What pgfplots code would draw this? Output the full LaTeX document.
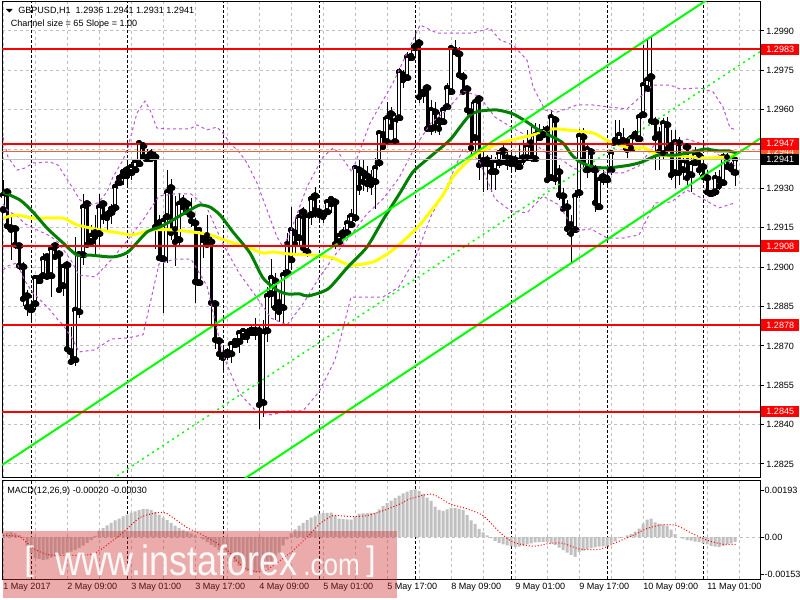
\documentclass[border=0pt]{standalone}
\usepackage{pgfplots}
\pgfplotsset{compat=1.18}
\usepackage{pgfplotstable}
\usepackage{fontspec}
\setmainfont{Liberation Sans}

\definecolor{mtgrid}{RGB}{192,192,192}
\definecolor{mtgreen}{RGB}{0,128,0}
\definecolor{mtlime}{RGB}{0,255,0}
\definecolor{mtyellow}{RGB}{255,255,0}
\definecolor{mtorchid}{RGB}{186,85,211}
\definecolor{mtorange}{RGB}{255,90,40}
\definecolor{mtpink}{RGB}{205,45,45}
\newcommand\lbl{\fontsize{6.8}{8.2}\selectfont}

% hourly candles, i = bar index (0 = 1 May 17:00)
\pgfplotstableread{
i o h l c
0 1.29218 1.29332 1.29210 1.29275
1 1.29286 1.29294 1.29142 1.29157
2 1.29149 1.29199 1.29027 1.29142
3 1.29146 1.29153 1.29069 1.29085
4 1.29081 1.29088 1.28989 1.29005
5 1.29001 1.29020 1.28852 1.28879
6 1.28890 1.28913 1.28814 1.28848
7 1.28837 1.28856 1.28787 1.28848
8 1.28860 1.28970 1.28837 1.28959
9 1.28947 1.28970 1.28940 1.28959
10 1.28966 1.29054 1.28959 1.29031
11 1.29039 1.29043 1.28955 1.28963
12 1.28966 1.29077 1.28886 1.29069
13 1.29081 1.29085 1.29031 1.29039
14 1.29050 1.29054 1.28906 1.28913
15 1.28928 1.29008 1.28890 1.29001
16 1.29008 1.29016 1.28685 1.28688
17 1.28677 1.28772 1.28635 1.28639
18 1.28646 1.29115 1.28624 1.28837
19 1.28829 1.29054 1.28806 1.29050
20 1.29046 1.29279 1.29008 1.29229
21 1.29241 1.29245 1.29077 1.29085
22 1.29096 1.29161 1.29085 1.29119
23 1.29130 1.29199 1.29046 1.29115
24 1.29127 1.29279 1.29085 1.29229
25 1.29241 1.29252 1.29165 1.29191
26 1.29199 1.29218 1.29142 1.29187
27 1.29207 1.29241 1.29165 1.29222
28 1.29226 1.29313 1.29210 1.29306
29 1.29321 1.29347 1.29313 1.29340
30 1.29347 1.29378 1.29313 1.29363
31 1.29370 1.29401 1.29313 1.29347
32 1.29359 1.29401 1.29332 1.29382
33 1.29370 1.29408 1.29363 1.29401
34 1.29393 1.29477 1.29389 1.29473
35 1.29462 1.29477 1.29416 1.29420
36 1.29412 1.29450 1.29408 1.29420
37 1.29431 1.29450 1.29408 1.29412
38 1.29420 1.29443 1.29069 1.29153
39 1.29168 1.29199 1.29027 1.29035
40 1.29031 1.29187 1.28826 1.29176
41 1.29191 1.29370 1.29016 1.29286
42 1.29302 1.29336 1.29104 1.29130
43 1.29142 1.29271 1.29005 1.29096
44 1.29104 1.29283 1.29077 1.29241
45 1.29252 1.29275 1.29210 1.29229
46 1.29241 1.29256 1.29199 1.29210
47 1.29199 1.29264 1.29153 1.29176
48 1.29168 1.29187 1.28864 1.28944
49 1.28940 1.29149 1.28932 1.29142
50 1.29104 1.29130 1.29035 1.29119
51 1.29119 1.29199 1.29073 1.29085
52 1.29096 1.29115 1.28772 1.28864
53 1.28860 1.28875 1.28688 1.28723
54 1.28719 1.28730 1.28646 1.28669
55 1.28662 1.28696 1.28608 1.28654
56 1.28665 1.28692 1.28646 1.28677
57 1.28669 1.28719 1.28635 1.28707
58 1.28704 1.28726 1.28696 1.28719
59 1.28715 1.28761 1.28673 1.28749
60 1.28734 1.28765 1.28723 1.28757
61 1.28749 1.28768 1.28711 1.28734
62 1.28749 1.28780 1.28742 1.28761
63 1.28749 1.28806 1.28723 1.28761
64 1.28757 1.28780 1.28384 1.28475
65 1.28483 1.28799 1.28429 1.28749
66 1.28757 1.28925 1.28715 1.28890
67 1.28898 1.29031 1.28845 1.28959
68 1.28947 1.28978 1.28799 1.28845
69 1.28864 1.28902 1.28791 1.28829
70 1.28845 1.28989 1.28780 1.28970
71 1.28978 1.29130 1.28959 1.29088
72 1.29027 1.29229 1.28989 1.29142
73 1.29130 1.29191 1.29054 1.29088
74 1.29111 1.29218 1.29085 1.29191
75 1.29210 1.29229 1.29066 1.29073
76 1.29058 1.29195 1.29039 1.29191
77 1.29199 1.29264 1.29161 1.29260
78 1.29271 1.29306 1.29187 1.29218
79 1.29210 1.29229 1.29180 1.29199
80 1.29199 1.29214 1.29168 1.29191
81 1.29210 1.29256 1.29199 1.29248
82 1.29241 1.29264 1.29207 1.29260
83 1.29248 1.29256 1.29069 1.29088
84 1.29096 1.29134 1.29085 1.29119
85 1.29130 1.29153 1.29104 1.29115
86 1.29130 1.29199 1.29119 1.29168
87 1.29161 1.29222 1.29149 1.29195
88 1.29187 1.29389 1.29172 1.29378
89 1.29370 1.29412 1.29275 1.29302
90 1.29359 1.29412 1.29290 1.29325
91 1.29347 1.29386 1.29286 1.29317
92 1.29332 1.29370 1.29275 1.29313
93 1.29325 1.29416 1.29222 1.29378
94 1.29397 1.29519 1.29382 1.29511
95 1.29504 1.29572 1.29447 1.29458
96 1.29477 1.29629 1.29466 1.29568
97 1.29584 1.29610 1.29523 1.29534
98 1.29477 1.29588 1.29466 1.29557
99 1.29568 1.29759 1.29561 1.29744
100 1.29732 1.29751 1.29683 1.29713
101 1.29721 1.29820 1.29713 1.29801
102 1.29797 1.29847 1.29789 1.29805
103 1.29835 1.29904 1.29797 1.29843
104 1.29854 1.29866 1.29626 1.29648
105 1.29660 1.29683 1.29626 1.29668
106 1.29683 1.29690 1.29523 1.29527
107 1.29527 1.29637 1.29504 1.29599
108 1.29591 1.29629 1.29511 1.29534
109 1.29557 1.29591 1.29504 1.29527
110 1.29553 1.29610 1.29542 1.29599
111 1.29610 1.29702 1.29599 1.29683
112 1.29668 1.29839 1.29656 1.29835
113 1.29820 1.29866 1.29808 1.29828
114 1.29812 1.29839 1.29721 1.29732
115 1.29725 1.29744 1.29656 1.29668
116 1.29679 1.29687 1.29580 1.29599
117 1.29591 1.29629 1.29427 1.29454
118 1.29492 1.29637 1.29427 1.29629
119 1.29641 1.29648 1.29332 1.29389
120 1.29405 1.29458 1.29286 1.29393
121 1.29408 1.29427 1.29294 1.29393
122 1.29393 1.29427 1.29286 1.29363
123 1.29363 1.29420 1.29294 1.29401
124 1.29397 1.29447 1.29378 1.29435
125 1.29443 1.29466 1.29389 1.29401
126 1.29416 1.29447 1.29370 1.29397
127 1.29412 1.29439 1.29370 1.29393
128 1.29408 1.29427 1.29363 1.29393
129 1.29382 1.29473 1.29370 1.29401
130 1.29416 1.29485 1.29389 1.29408
131 1.29416 1.29523 1.29408 1.29462
132 1.29473 1.29549 1.29401 1.29416
133 1.29412 1.29549 1.29401 1.29504
134 1.29492 1.29546 1.29485 1.29515
135 1.29504 1.29538 1.29492 1.29515
136 1.29523 1.29542 1.29325 1.29332
137 1.29340 1.29599 1.29332 1.29572
138 1.29561 1.29568 1.29313 1.29336
139 1.29363 1.29389 1.29256 1.29275
140 1.29271 1.29302 1.29210 1.29222
141 1.29229 1.29256 1.29123 1.29146
142 1.29161 1.29199 1.29020 1.29127
143 1.29142 1.29294 1.29130 1.29271
144 1.29283 1.29527 1.29264 1.29500
145 1.29496 1.29530 1.29370 1.29408
146 1.29370 1.29466 1.29340 1.29450
147 1.29439 1.29454 1.29363 1.29382
148 1.29370 1.29389 1.29210 1.29245
149 1.29229 1.29351 1.29218 1.29332
150 1.29344 1.29370 1.29313 1.29332
151 1.29332 1.29370 1.29302 1.29340
152 1.29370 1.29447 1.29351 1.29435
153 1.29473 1.29561 1.29466 1.29485
154 1.29473 1.29561 1.29462 1.29504
155 1.29477 1.29530 1.29447 1.29485
156 1.29477 1.29496 1.29416 1.29447
157 1.29450 1.29500 1.29439 1.29492
158 1.29500 1.29523 1.29485 1.29508
159 1.29488 1.29588 1.29481 1.29572
160 1.29580 1.29847 1.29568 1.29694
161 1.29679 1.29866 1.29668 1.29713
162 1.29725 1.29877 1.29542 1.29557
163 1.29553 1.29572 1.29370 1.29492
164 1.29504 1.29534 1.29370 1.29439
165 1.29431 1.29568 1.29408 1.29549
166 1.29542 1.29572 1.29427 1.29450
167 1.29462 1.29523 1.29332 1.29351
168 1.29359 1.29523 1.29302 1.29477
169 1.29473 1.29496 1.29313 1.29359
170 1.29370 1.29427 1.29332 1.29401
171 1.29458 1.29466 1.29313 1.29340
172 1.29351 1.29420 1.29286 1.29393
173 1.29397 1.29458 1.29389 1.29431
174 1.29424 1.29447 1.29351 1.29370
175 1.29382 1.29416 1.29332 1.29344
176 1.29340 1.29370 1.29275 1.29286
177 1.29279 1.29294 1.29271 1.29283
178 1.29286 1.29363 1.29271 1.29340
179 1.29332 1.29370 1.29294 1.29309
180 1.29321 1.29435 1.29313 1.29420
181 1.29416 1.29435 1.29370 1.29382
182 1.29382 1.29401 1.29351 1.29374
183 1.29360 1.29410 1.29310 1.29410
}\candles

% fast moving average (dark green)
\pgfplotstableread{
i v
0 1.29286
4.25 1.29256
7.5 1.29210
11 1.29149
14.75 1.29096
18.5 1.29046
21.75 1.29046
27.5 1.29039
31.25 1.29058
36 1.29134
39.25 1.29153
42.5 1.29180
46.75 1.29218
49.25 1.29237
51.75 1.29229
54.25 1.29199
57.5 1.29134
61.75 1.29054
65 1.28959
68.5 1.28913
71 1.28898
74.25 1.28898
76.25 1.28890
81.25 1.28917
86 1.28997
91 1.29077
95 1.29180
99.25 1.29283
102.5 1.29363
106.75 1.29420
111.75 1.29485
114.25 1.29534
116.75 1.29580
119.25 1.29595
123.5 1.29599
127.5 1.29584
131 1.29553
134.25 1.29519
137.5 1.29496
140 1.29473
142.25 1.29427
144.25 1.29401
147.5 1.29382
151 1.29378
153.5 1.29382
156.75 1.29389
159.75 1.29401
163.75 1.29427
168 1.29427
172.25 1.29439
175.5 1.29450
178.75 1.29443
181.25 1.29443
183.5 1.29435
}\magreen

% slow moving average (yellow)
\pgfplotstableread{
i v
0 1.29187
3.5 1.29199
7.5 1.29187
15 1.29187
18.5 1.29161
24.25 1.29142
29.25 1.29130
32.5 1.29123
37.5 1.29142
42.5 1.29142
47.5 1.29134
51.75 1.29123
56.75 1.29096
61 1.29077
65 1.29054
67.5 1.29058
71.75 1.29050
77.5 1.29046
82.5 1.29035
86.75 1.29008
92.5 1.29020
97.5 1.29066
103.5 1.29149
106.75 1.29210
110 1.29275
112.5 1.29344
116 1.29401
119.25 1.29439
124.25 1.29473
129.25 1.29492
134.25 1.29511
137.5 1.29527
141 1.29523
147.5 1.29511
151.75 1.29477
156.75 1.29454
160.5 1.29454
163.75 1.29427
168 1.29424
172.25 1.29420
176.25 1.29416
180.5 1.29420
183.5 1.29427
}\mayellow

% Bollinger bands (purple, dashed)
\pgfplotstableread{
i v
0 1.29496
1.25 1.29420
3.5 1.29370
5.5 1.29378
7.5 1.29397
11.75 1.29401
13.75 1.29389
15 1.29359
17.25 1.29306
19.25 1.29256
21.25 1.29237
23.75 1.29245
26 1.29287
27.5 1.29344
30 1.29408
31.25 1.29458
33.5 1.29588
35.5 1.29633
36.75 1.29599
38.5 1.29530
41 1.29527
46.75 1.29527
48.5 1.29542
51 1.29523
53.5 1.29534
55 1.29511
56.75 1.29473
59.25 1.29435
61 1.29397
63.5 1.29321
66 1.29218
68.5 1.29115
70 1.29077
71.75 1.29130
76 1.29306
80 1.29420
82.5 1.29454
83.75 1.29439
87.25 1.29363
91.75 1.29549
97.5 1.29702
101 1.29816
104.25 1.29923
108.5 1.29892
117.5 1.29892
121.75 1.29911
124.25 1.29866
127.5 1.29847
131 1.29789
132.5 1.29687
135.5 1.29599
138.5 1.29591
143.5 1.29618
147.5 1.29618
151.75 1.29610
156 1.29603
159.25 1.29648
162.5 1.29694
166.75 1.29694
169.25 1.29679
174.25 1.29683
177.5 1.29668
180 1.29610
181.75 1.29530
183.5 1.29523
}\bbup

\pgfplotstableread{
i v
0 1.29241
1.25 1.29214
3.5 1.29195
5.5 1.29165
7.5 1.29149
11.75 1.29119
13.75 1.29096
15 1.29069
17.25 1.29020
19 1.28970
23 1.28963
27 1.29027
31 1.29100
35 1.29180
39 1.29271
43 1.29279
47 1.29279
51 1.29226
55 1.29088
59 1.28978
63 1.28894
67 1.28806
71 1.28780
75 1.28860
79 1.28959
83 1.29046
87 1.29123
91 1.29203
95 1.29260
99 1.29340
103 1.29458
107 1.29549
111 1.29599
115 1.29671
119 1.29652
123 1.29572
127 1.29534
131 1.29500
135 1.29443
139 1.29416
143 1.29374
147 1.29382
151 1.29359
155 1.29359
159 1.29386
163 1.29469
167 1.29469
171 1.29488
175 1.29469
179 1.29427
183 1.29386
}\bbmid

\pgfplotstableread{
i v
0 1.28989
1.25 1.29005
3.5 1.29016
5.5 1.28947
7.5 1.28902
11.75 1.28837
13.75 1.28799
15 1.28780
17.25 1.28730
19 1.28677
23 1.28685
27 1.28726
31 1.28730
35 1.28742
39 1.29012
43 1.29031
47 1.29031
51 1.28928
55 1.28665
59 1.28521
63 1.28456
67 1.28437
71 1.28452
75 1.28452
79 1.28525
83 1.28646
87 1.28886
91 1.28886
95 1.28886
99 1.28925
103 1.29031
107 1.29195
111 1.29309
115 1.29450
119 1.29408
123 1.29260
127 1.29214
131 1.29207
135 1.29271
139 1.29237
143 1.29138
147 1.29146
151 1.29111
155 1.29111
159 1.29123
163 1.29245
167 1.29248
171 1.29294
175 1.29260
179 1.29226
183 1.29245
}\bblow

% MACD main (histogram)
\pgfplotstableread{
i m
0 0.00015
1 0.00018
2 0.00020
3 0.00015
4 0.00008
5 -0.00005
6 -0.00040
7 -0.00065
8 -0.00086
9 -0.00090
10 -0.00094
11 -0.00092
12 -0.00085
13 -0.00080
14 -0.00074
15 -0.00070
16 -0.00066
17 -0.00060
18 -0.00054
19 -0.00045
20 -0.00035
21 -0.00024
22 -0.00013
23 0.00005
24 0.00027
25 0.00037
26 0.00048
27 0.00058
28 0.00068
29 0.00076
30 0.00085
31 0.00092
32 0.00100
33 0.00106
34 0.00111
35 0.00116
36 0.00115
37 0.00112
38 0.00102
39 0.00092
40 0.00080
41 0.00069
42 0.00058
43 0.00047
44 0.00038
45 0.00029
46 0.00022
47 0.00015
48 0.00007
49 0.00000
50 -0.00010
51 -0.00021
52 -0.00032
53 -0.00042
54 -0.00053
55 -0.00064
56 -0.00075
57 -0.00086
58 -0.00102
59 -0.00118
60 -0.00134
61 -0.00139
62 -0.00144
63 -0.00147
64 -0.00145
65 -0.00141
66 -0.00126
67 -0.00110
68 -0.00094
69 -0.00064
70 -0.00034
71 -0.00010
72 0.00015
73 0.00031
74 0.00047
75 0.00058
76 0.00069
77 0.00080
78 0.00088
79 0.00096
80 0.00098
81 0.00099
82 0.00100
83 0.00088
84 0.00076
85 0.00074
86 0.00073
87 0.00072
88 0.00084
89 0.00096
90 0.00097
91 0.00098
92 0.00099
93 0.00100
94 0.00114
95 0.00128
96 0.00139
97 0.00150
98 0.00160
99 0.00170
100 0.00180
101 0.00187
102 0.00193
103 0.00196
104 0.00190
105 0.00178
106 0.00162
107 0.00149
108 0.00125
109 0.00112
110 0.00108
111 0.00114
112 0.00120
113 0.00120
114 0.00116
115 0.00112
116 0.00090
117 0.00068
118 0.00054
119 0.00033
120 0.00019
121 0.00007
122 -0.00005
123 -0.00016
124 -0.00024
125 -0.00030
126 -0.00034
127 -0.00038
128 -0.00041
129 -0.00040
130 -0.00035
131 -0.00030
132 -0.00026
133 -0.00022
134 -0.00021
135 -0.00021
136 -0.00021
137 -0.00026
138 -0.00032
139 -0.00044
140 -0.00054
141 -0.00064
142 -0.00074
143 -0.00082
144 -0.00062
145 -0.00056
146 -0.00050
147 -0.00046
148 -0.00043
149 -0.00040
150 -0.00039
151 -0.00038
152 -0.00028
153 -0.00018
154 -0.00005
155 0.00001
156 0.00007
157 0.00012
158 0.00022
159 0.00035
160 0.00055
161 0.00072
162 0.00076
163 0.00060
164 0.00055
165 0.00051
166 0.00047
167 0.00030
168 0.00012
169 0.00000
170 -0.00007
171 -0.00013
172 -0.00015
173 -0.00019
174 -0.00021
175 -0.00026
176 -0.00030
177 -0.00036
178 -0.00040
179 -0.00042
180 -0.00036
181 -0.00030
182 -0.00026
183 -0.00020
}\hist

% MACD signal line
\pgfplotstableread{
i s
0 0.00007
4.25 0.00000
7.5 -0.00046
11.75 -0.00074
21 -0.00074
24.25 -0.00054
30 0.00019
34.25 0.00080
38.5 0.00100
41 0.00096
46 0.00039
51 -0.00001
56 -0.00054
60 -0.00123
63.5 -0.00143
66 -0.00135
71.75 -0.00066
76 -0.00001
79.25 0.00055
82.5 0.00088
86.75 0.00084
91 0.00088
95 0.00108
99.25 0.00136
101.75 0.00157
106.75 0.00177
109.25 0.00161
111.75 0.00136
116 0.00116
120 0.00088
124.25 0.00019
127.5 -0.00021
132.5 -0.00038
136.75 -0.00026
140 -0.00026
144.25 -0.00050
149.25 -0.00050
153.5 -0.00021
157.5 0.00007
161 0.00035
165 0.00051
168.5 0.00047
171.75 0.00019
176 -0.00013
180 -0.00030
183.5 -0.00030
}\signal

\pgfplotsset{
  mtpanel/.style={
    scale only axis, width=568.5pt,
    xmin=-0.25, xmax=189.25,
    axis line style={black, line width=0.75pt},
    scaled ticks=false,
    xtick={0,16,...,176},
    minor xtick={8,24,...,184},
    xmajorgrids=true, xminorgrids=true,
    major grid style={mtgrid, line width=0.75pt, dash pattern=on 2.25pt off 2.25pt},
    minor grid style={mtgrid, line width=0.75pt, dash pattern=on 2.25pt off 2.25pt},
    extra x ticks={7,31,55,79,103,127,151,175},
    extra x tick labels={},
    extra x tick style={grid=major, major grid style={black, line width=0.75pt, dash pattern=on 2.25pt off 1.5pt}},
    xtick pos=bottom, ytick pos=right, yticklabel pos=right,
    tick align=outside, major tick length=3pt, minor tick length=0pt,
    xtick style={draw=none},
    ytick style={black, line width=0.75pt},
    yticklabel style={font=\lbl, anchor=west, inner sep=0pt, xshift=1.5pt},
    xticklabel style={font=\lbl, anchor=north west, inner sep=0pt},
  },
  pricebox/.style={
    scale only axis, width=568.5pt, height=357pt,
    at={(1.5pt,91.5pt)}, anchor=south west,
    xmin=-0.25, xmax=189.25,
    ymin=1.281966, ymax=1.300105,
  },
  candle/.style={forget plot, only marks, mark=none},
  band/.style={mtorchid, line width=0.75pt, dash pattern=on 2.25pt off 2.25pt},
}

\begin{document}
\begin{tikzpicture}
\fill[white] (0,0) rectangle (600pt,450pt);
\useasboundingbox (0,0) rectangle (600pt,450pt);

% ---------------- price panel: frame, grid and candles ----------------
\begin{axis}[mtpanel, pricebox,
  ymajorgrids=true,
  xticklabels={},
  ytick={1.2825,1.2840,1.2855,1.2870,1.2885,1.2900,1.2915,1.2930,1.2945,1.2960,1.2975,1.2990},
  yticklabels={1.2825,1.2840,1.2855,1.2870,1.2885,1.2900,1.2915,1.2930,,1.2960,1.2975,1.2990},
]
  % upper and lower wicks
  \addplot[candle, error bars/.cd, y dir=plus, y explicit, error mark=none,
    error bar style={black, line width=0.75pt}]
    table[x=i, y expr={max(\thisrow{o},\thisrow{c})}, y error plus expr={\thisrow{h}-max(\thisrow{o},\thisrow{c})}] {\candles};
  \addplot[candle, error bars/.cd, y dir=minus, y explicit, error mark=none,
    error bar style={black, line width=0.75pt}]
    table[x=i, y expr={min(\thisrow{o},\thisrow{c})}, y error minus expr={min(\thisrow{o},\thisrow{c})-\thisrow{l}}] {\candles};
  % falling candles: solid black bodies
  \addplot[candle, error bars/.cd, y dir=plus, y explicit, error mark=none,
    error bar style={black, line width=2.25pt}]
    table[x=i, y=c, y error plus expr={max(\thisrow{o}-\thisrow{c},0)}] {\candles};
  % rising candles: outline (left side, right side, bottom, top)
  \addplot[candle, error bars/.cd, y dir=plus, y explicit, error mark=none,
    error bar style={black, line width=0.75pt}]
    table[x expr={\thisrow{i}-0.375}, y=o, y error plus expr={max(\thisrow{c}-\thisrow{o},0)}] {\candles};
  \addplot[candle, error bars/.cd, y dir=plus, y explicit, error mark=none,
    error bar style={black, line width=0.75pt}]
    table[x expr={\thisrow{i}+0.375}, y=o, y error plus expr={max(\thisrow{c}-\thisrow{o},0)}] {\candles};
  \addplot[candle, error bars/.cd, x dir=both, x fixed=0.47, error mark=none,
    error bar style={black, line width=0.75pt}]
    table[x=i, y=o] {\candles};
  \addplot[candle, error bars/.cd, x dir=both, x fixed=0.47, error mark=none,
    error bar style={black, line width=0.75pt}]
    table[x=i, y=c] {\candles};
\end{axis}

% ---------------- price panel: indicators and levels ----------------
\begin{axis}[pricebox, hide axis]
  % white inside of the rising candles
  \addplot[candle, error bars/.cd, y dir=plus, y explicit, error mark=none,
    error bar style={white, line width=1.5pt}]
    table[x=i, y expr={\thisrow{o}+0.000038}, y error plus expr={max(\thisrow{c}-\thisrow{o}-0.000076,0)}] {\candles};

  % Bollinger bands
  \addplot[band] table[x=i, y=v] {\bbup};
  \addplot[band] table[x=i, y=v] {\bbmid};
  \addplot[band] table[x=i, y=v] {\bblow};

  % moving averages
  \addplot[mtyellow, line width=2.25pt, smooth, tension=0.4] table[x=i, y=v] {\mayellow};
  \addplot[mtgreen, line width=2.25pt, smooth, tension=0.4] table[x=i, y=v] {\magreen};

  % regression channel
  \addplot[mtlime, line width=1.5pt] coordinates {(-0.25,1.28246) (189.25,1.30152)};
  \addplot[mtlime, line width=1.5pt] coordinates {(-0.25,1.27584) (189.25,1.29490)};
  \addplot[mtlime, line width=1.1pt, dash pattern=on 1.5pt off 3pt] coordinates {(-0.25,1.27915) (189.25,1.29821)};

  % bid and ask lines
  \addplot[mtgrid, line width=0.75pt] coordinates {(-0.25,1.2941) (189.25,1.2941)};
  \addplot[mtorange, line width=0.75pt] coordinates {(-0.25,1.2944) (189.25,1.2944)};

  % support and resistance levels
  \addplot[red, line width=1.5pt] coordinates {(-0.25,1.2983) (189.25,1.2983)};
  \addplot[red, line width=1.5pt] coordinates {(-0.25,1.2947) (189.25,1.2947)};
  \addplot[red, line width=1.5pt] coordinates {(-0.25,1.2908) (189.25,1.2908)};
  \addplot[red, line width=1.5pt] coordinates {(-0.25,1.2878) (189.25,1.2878)};
  \addplot[red, line width=1.5pt] coordinates {(-0.25,1.2845) (189.25,1.2845)};

  \coordinate (r2983) at (axis cs:189.25,1.2983);
  \coordinate (r2947) at (axis cs:189.25,1.2947);
  \coordinate (r2944) at (axis cs:189.25,1.2944);
  \coordinate (r2941) at (axis cs:189.25,1.2941);
  \coordinate (r2908) at (axis cs:189.25,1.2908);
  \coordinate (r2878) at (axis cs:189.25,1.2878);
  \coordinate (r2845) at (axis cs:189.25,1.2845);
\end{axis}

% ---------------- MACD panel ----------------
\begin{axis}[mtpanel,
  at={(1.5pt,15.75pt)}, anchor=south west, height=73.5pt,
  ymin=-0.001728, ymax=0.002305,
  ymajorgrids=false,
  xticklabels={1 May 2017,2 May 09:00,3 May 01:00,3 May 17:00,4 May 09:00,5 May 01:00,5 May 17:00,8 May 09:00,9 May 01:00,9 May 17:00,10 May 09:00,11 May 01:00},
  ytick={-0.00153,0,0.00193},
  yticklabels={-0.00153,0.00,0.00193},
  yticklabel style={xshift=-1.2pt},
]
  \addplot[mtgrid, line width=0.75pt, dash pattern=on 2.25pt off 2.25pt, forget plot] coordinates {(-0.25,0) (189.25,0)};
  \addplot[ybar, bar width=2.25pt, bar shift=0pt, fill=mtgrid, draw=none, forget plot] table[x=i, y=m] {\hist};
  \addplot[red, line width=0.75pt, dash pattern=on 0.75pt off 1.5pt, smooth, tension=0.4] table[x=i, y=s] {\signal};
\end{axis}

% ---------------- price boxes on the scale ----------------
\tikzset{pbox/.style={anchor=west, inner xsep=0pt, inner ysep=0pt, minimum width=28.5pt, minimum height=8.6pt, font=\lbl, text=white}}
\node[pbox, fill=red] at ([xshift=0.75pt]r2983) {1.2983};
\node[pbox, fill=mtorange] at ([xshift=0.75pt]r2944) {1.2944};
\node[pbox, fill=red] at ([xshift=0.75pt]r2947) {1.2947};
\node[pbox, fill=black] at ([xshift=0.75pt]r2941) {1.2941};
\node[pbox, fill=red] at ([xshift=0.75pt]r2908) {1.2908};
\node[pbox, fill=red] at ([xshift=0.75pt]r2878) {1.2878};
\node[pbox, fill=red] at ([xshift=0.75pt]r2845) {1.2845};

% ---------------- texts, in pixel units from the top left ----------------
\begin{scope}[x=0.75pt, y=-0.75pt, yshift=450pt]
  \fill[black] (6,9) -- (12.7,9) -- (9.35,12.6) -- cycle;
  \node[anchor=west, inner sep=0pt, font=\lbl] at (18,10.5) {GBPUSD,H1\ \ 1.2936 1.2941 1.2931 1.2941};
  \node[anchor=west, inner sep=0pt, font=\lbl] at (10.5,24) {Channel size = 65 Slope = 1.00};
  \node[anchor=west, inner sep=0pt, font=\lbl] at (7,491) {MACD(12,26,9) -0.00020 -0.00030};
  % watermark
  \fill[mtpink, opacity=0.4] (3,531) rectangle (397,598);
  \begin{scope}[opacity=0.92]
    \node[anchor=base west, inner sep=0pt, text depth=0pt, text=white, font=\fontsize{25.5}{26}\selectfont] at (24,571) {[};
    \node[anchor=base west, inner sep=0pt, text depth=0pt, text=white, font=\fontsize{31.8}{32}\selectfont] at (55,575) {\scalebox{0.85}[1]{www.instaforex}};
    \node[anchor=base west, inner sep=0pt, text depth=0pt, text=white, font=\fontsize{23}{24}\selectfont] at (303,575) {\scalebox{0.85}[1]{.com}};
    \node[anchor=base west, inner sep=0pt, text depth=0pt, text=white, font=\fontsize{25.5}{26}\selectfont] at (366,571) {]};
  \end{scope}
\end{scope}
\end{tikzpicture}
\end{document}
